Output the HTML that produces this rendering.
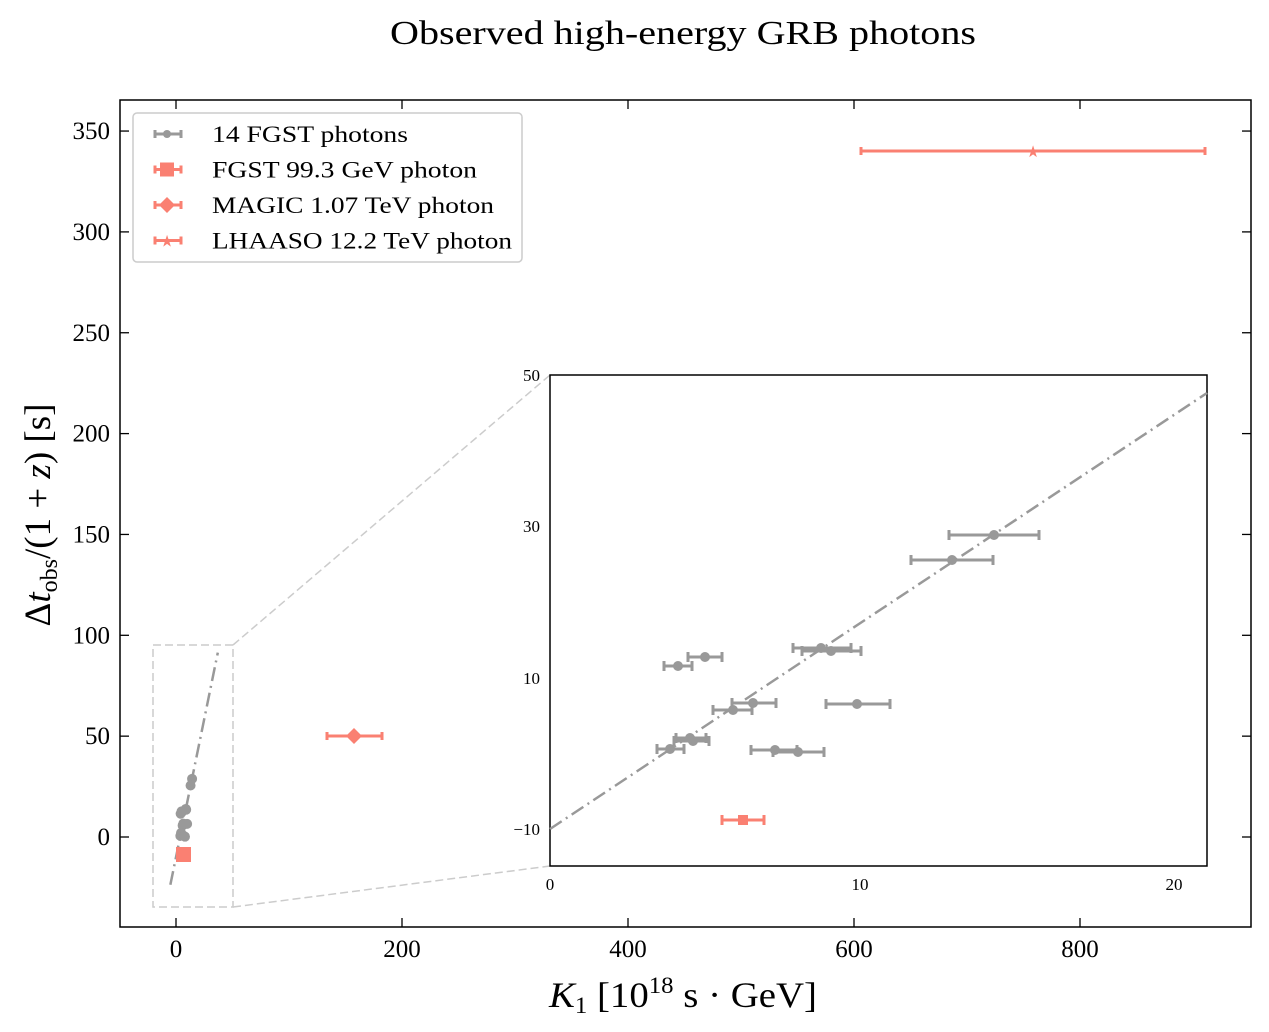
<!DOCTYPE html>
<html><head><meta charset="utf-8"><style>body{margin:0;background:#fff}svg{display:block}text{font-family:"Liberation Serif",serif;fill:#000}</style></head>
<body>
<svg id="s" width="1269" height="1032" xmlns="http://www.w3.org/2000/svg">
<text x="390" y="44" font-size="34" textLength="586" lengthAdjust="spacingAndGlyphs">Observed high-energy GRB photons</text>
<g id="g"></g>
<rect x="120" y="100" width="1131" height="827" fill="none" stroke="#000" stroke-width="1.5"/>
<text x="549" y="1007" font-size="36" textLength="268" lengthAdjust="spacingAndGlyphs"><tspan font-style="italic">K</tspan><tspan font-size="23" dy="6">1</tspan><tspan dy="-6"> [10</tspan><tspan font-size="23" dy="-14">18</tspan><tspan dy="14"> s · GeV]</tspan></text>
<text transform="translate(50,515) rotate(-90)" font-size="37" text-anchor="middle">Δ<tspan font-style="italic">t</tspan><tspan font-size="24" dy="7">obs</tspan><tspan dy="-7">/(1 + </tspan><tspan font-style="italic">z</tspan>) [s]</text>
</svg>
<script>
const g=document.getElementById('g');let h='';
const X=x=>176+1.13*x, Y=y=>837-2.017*y;
[0,200,400,600,800].forEach(v=>{const p=X(v);h+=`<line x1="${p}" y1="927" x2="${p}" y2="918" stroke="#000" stroke-width="1.3"/><line x1="${p}" y1="100" x2="${p}" y2="109" stroke="#000" stroke-width="1.3"/><text x="${p}" y="957" font-size="25" text-anchor="middle">${v}</text>`});
[0,50,100,150,200,250,300,350].forEach(v=>{const p=Y(v);h+=`<line x1="120" y1="${p}" x2="129" y2="${p}" stroke="#000" stroke-width="1.3"/><line x1="1251" y1="${p}" x2="1242" y2="${p}" stroke="#000" stroke-width="1.3"/><text x="110" y="${p+8}" font-size="25" text-anchor="end">${v}</text>`});
h+=`<rect x="153" y="645" width="80" height="262" fill="none" stroke="#ccc" stroke-width="1.5" stroke-dasharray="8,4"/>`;
h+=`<line x1="233" y1="645" x2="550" y2="375" stroke="#ccc" stroke-width="1.5" stroke-dasharray="8,4"/><line x1="233" y1="907" x2="550" y2="866" stroke="#ccc" stroke-width="1.5" stroke-dasharray="8,4"/>`;
const gray='#999',red='#fa8072';
function eb(x,y,x1,x2,c,w,cap){return `<line x1="${x1}" y1="${y}" x2="${x2}" y2="${y}" stroke="${c}" stroke-width="${w}"/><line x1="${x1}" y1="${y-cap}" x2="${x1}" y2="${y+cap}" stroke="${c}" stroke-width="${w}"/><line x1="${x2}" y1="${y-cap}" x2="${x2}" y2="${y+cap}" stroke="${c}" stroke-width="${w}"/>`}
const pts=[[994,535,949,1039],[952,560,911,993],[821,648,793,851],[831,651,802,861],[678,666,664,692],[705,657,688,722],[753,703,732,776],[733,710,713,752],[857,704,826,890],[693,741,674,709],[670,749,657,684],[690,738,676,706],[775,750,751,797],[798,752,773,824]];
const ix=p=>(p-550)/31.2, iy=p=>(829-p)/7.57-10;
h+=`<line x1="${X(-5)}" y1="${Y(-23.7)}" x2="${X(37)}" y2="${Y(91.4)}" stroke="${gray}" stroke-width="2.5" stroke-dasharray="14,5,2,5"/>`;
pts.forEach(p=>{const x=X(ix(p[0])),y=Y(iy(p[1]));h+=eb(x,y,X(ix(p[2])),X(ix(p[3])),gray,2,3)+`<circle cx="${x}" cy="${y}" r="5" fill="${gray}"/>`});
h+=`<rect x="176" y="847" width="15" height="15" fill="${red}"/>`;
h+=eb(354,736,327,382,red,3,4)+`<path d="M354 728 L362 736 L354 744 L346 736Z" fill="${red}"/>`;
h+=eb(1033,151,861,1205,red,3,4)+`<text x="1033" y="157" font-size="16" text-anchor="middle" style="fill:${red}">★</text>`;
h+=`<rect x="133" y="113" width="389" height="149" rx="4" fill="#fff" stroke="#ccc" stroke-width="1.5"/>`;
const lg=[['14 FGST photons',gray,'c',196],['FGST 99.3 GeV photon',red,'s',265],['MAGIC 1.07 TeV photon',red,'d',282],['LHAASO 12.2 TeV photon',red,'t',300]];
lg.forEach((l,i)=>{const y=134+i*35.5;h+=eb(167,y,155,181,l[1],3,4);
if(l[2]=='c')h+=`<circle cx="167" cy="${y}" r="4" fill="${gray}"/>`;
if(l[2]=='s')h+=`<rect x="160" y="${y-7}" width="14" height="14" fill="${red}"/>`;
if(l[2]=='d')h+=`<path d="M167 ${y-8} L175 ${y} L167 ${y+8} L159 ${y}Z" fill="${red}"/>`;
if(l[2]=='t')h+=`<text x="167" y="${y+6}" font-size="16" text-anchor="middle" style="fill:${red}">★</text>`;
h+=`<text x="212" y="${y+8}" font-size="23" textLength="${l[3]}" lengthAdjust="spacingAndGlyphs">${l[0]}</text>`});
h+=`<rect x="550" y="375" width="657" height="491" fill="#fff" stroke="#000" stroke-width="1.5"/>`;
h+=`<line x1="550" y1="829" x2="1207" y2="393" stroke="${gray}" stroke-width="2.5" stroke-dasharray="14,5,2,5"/>`;
pts.forEach(p=>{h+=eb(p[0],p[1],p[2],p[3],gray,3,5)+`<circle cx="${p[0]}" cy="${p[1]}" r="5" fill="${gray}"/>`});
h+=eb(743,820,722,764,red,3,5)+`<rect x="738" y="815" width="10" height="10" fill="${red}"/>`;
[[0,550],[10,860],[20,1174]].forEach(t=>h+=`<text x="${t[1]}" y="890" font-size="17" text-anchor="middle">${t[0]}</text>`);
[[50,375],[30,526],[10,678],[-10,829]].forEach(t=>h+=`<text x="540" y="${t[1]+6}" font-size="17" text-anchor="end">${t[0]==-10?'−10':t[0]}</text>`);
g.innerHTML=h;
</script>
</body></html>
